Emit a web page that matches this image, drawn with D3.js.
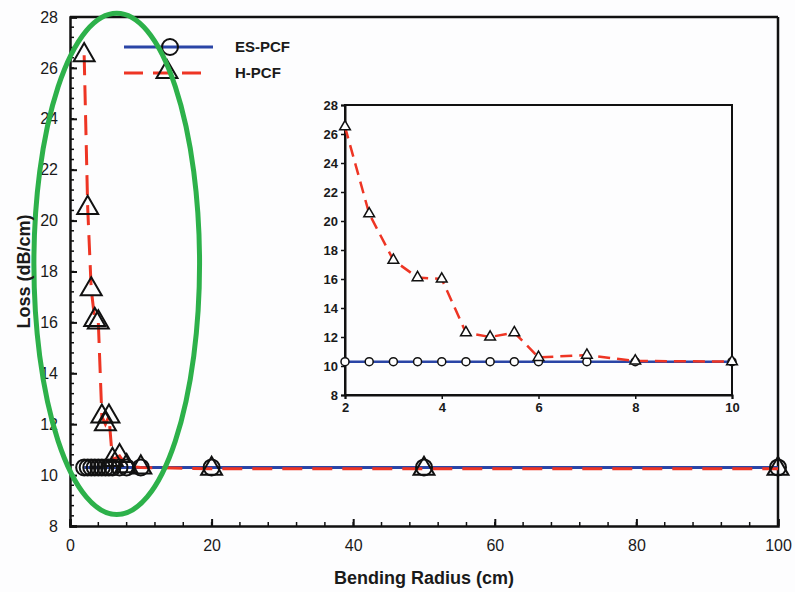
<!DOCTYPE html>
<html>
<head>
<meta charset="utf-8">
<script src="https://cdn.jsdelivr.net/npm/d3@7"></script>
<style>
  body { margin: 0; background: #fdfdfe; }
  svg text { font-family: "Liberation Sans", Arial, sans-serif; fill: #1a1a1a; }
</style>
</head>
<body>
<div id="chart"></div>
<script>
'use strict';
// bending radius (cm)
var radius = [2, 2.5, 3, 3.5, 4, 4.5, 5, 5.5, 6, 7, 8, 10, 20, 50, 100];
// loss values (dB/cm)
var esLoss = [10.3, 10.3, 10.3, 10.3, 10.3, 10.3, 10.3, 10.3, 10.3, 10.3, 10.3, 10.3, 10.3, 10.3, 10.3];
var hLoss = [26.5, 20.5, 17.3, 16.1, 16.0, 12.3, 12.0, 12.3, 10.6, 10.75, 10.35, 10.3, 10.25, 10.25, 10.25];
var seriesNames = ["ES-PCF", "H-PCF"];
var mainXTicks = [0, 20, 40, 60, 80, 100];
var mainYTicks = [8, 10, 12, 14, 16, 18, 20, 22, 24, 26, 28];
var insetXTicks = [2, 4, 6, 8, 10];
var insetYTicks = [8, 10, 12, 14, 16, 18, 20, 22, 24, 26, 28];
// highlighted region (data units: centre x, centre y, half-width, half-height)
var highlight = { cx: 6.6, cy: 18.3, rx: 11.7, ry: 9.85 };

var blue = "#2a45a6", red = "#ee3524", green = "#2db14a";

var W = 795, H = 592;
var svg = d3.select("#chart").append("svg")
    .attr("width", W).attr("height", H);

var margin = { top: 17, right: 17, bottom: 66, left: 70 },
    width = W - margin.left - margin.right,
    height = H - margin.top - margin.bottom;

var x = d3.scaleLinear().domain([0, 100]).range([0, width]);
var y = d3.scaleLinear().domain([8, 28]).range([height, 0]);

var g = svg.append("g")
    .attr("transform", "translate(" + margin.left + "," + margin.top + ")");

var pts = function (vals) {
    return radius.map(function (r, i) { return { x: r, y: vals[i] }; });
};
var esData = pts(esLoss), hData = pts(hLoss);

// minor ticks (inward)
g.selectAll(".xminor").data(d3.range(0, 101, 4)).enter().append("line")
    .attr("x1", function (d) { return x(d); }).attr("x2", function (d) { return x(d); })
    .attr("y1", height).attr("y2", height - 4)
    .attr("stroke", "#111").attr("stroke-width", 1.5);
g.selectAll(".yminor").data(d3.range(8, 28.01, 0.4)).enter().append("line")
    .attr("y1", function (d) { return y(d); }).attr("y2", function (d) { return y(d); })
    .attr("x1", 0).attr("x2", 4)
    .attr("stroke", "#111").attr("stroke-width", 1.5);

// axes
var xAxis = g.append("g").attr("transform", "translate(0," + height + ")")
    .call(d3.axisBottom(x).tickValues(mainXTicks).tickSize(-7).tickPadding(14));
var yAxis = g.append("g")
    .call(d3.axisLeft(y).tickValues(mainYTicks).tickSize(-7).tickPadding(12));
[xAxis, yAxis].forEach(function (a) {
    a.select(".domain").attr("stroke", "#111").attr("stroke-width", 2.5);
    a.selectAll(".tick line").attr("stroke", "#111").attr("stroke-width", 2);
    a.selectAll(".tick text").attr("font-size", 16).attr("fill", "#1a1a1a");
});
// top and right frame
g.append("line").attr("x1", 0).attr("x2", width).attr("y1", 0).attr("y2", 0)
    .attr("stroke", "#111").attr("stroke-width", 2.5);
g.append("line").attr("x1", width).attr("x2", width).attr("y1", 0).attr("y2", height)
    .attr("stroke", "#111").attr("stroke-width", 2.5);

// lines
var line = function (sx, sy) {
    return d3.line().x(function (d) { return sx(d.x); }).y(function (d) { return sy(d.y); });
};
g.append("path").datum(esData).attr("d", line(x, y))
    .attr("fill", "none").attr("stroke", blue).attr("stroke-width", 3);
g.append("path").datum(hData).attr("d", line(x, y))
    .attr("fill", "none").attr("stroke", red).attr("stroke-width", 3)
    .attr("stroke-dasharray", "20,10");

var tri = d3.symbol().type(d3.symbolTriangle);
g.selectAll(".cmain").data(esData).enter().append("circle")
    .attr("cx", function (d) { return x(d.x); }).attr("cy", function (d) { return y(d.y); })
    .attr("r", 8).attr("fill", "none").attr("stroke", "#111").attr("stroke-width", 2);
g.selectAll(".tmain").data(hData).enter().append("path")
    .attr("d", tri.size(190))
    .attr("transform", function (d) { return "translate(" + x(d.x) + "," + y(d.y) + ")"; })
    .attr("fill", "none").attr("stroke", "#111").attr("stroke-width", 2);

// legend
var leg = g.append("g").attr("transform", "translate(54,30)");
leg.append("line").attr("x1", 0).attr("x2", 89).attr("y1", 0).attr("y2", 0)
    .attr("stroke", blue).attr("stroke-width", 3);
leg.append("circle").attr("cx", 46).attr("cy", 0).attr("r", 8)
    .attr("fill", "none").attr("stroke", "#111").attr("stroke-width", 2);
leg.append("line").attr("x1", 0).attr("x2", 80).attr("y1", 26).attr("y2", 26)
    .attr("stroke", red).attr("stroke-width", 3).attr("stroke-dasharray", "19,10");
leg.append("path").attr("d", tri.size(190)).attr("transform", "translate(43,25)")
    .attr("fill", "none").attr("stroke", "#111").attr("stroke-width", 2);
leg.selectAll("text").data(seriesNames).enter().append("text")
    .attr("x", 111).attr("y", function (d, i) { return i * 26 + 5; })
    .attr("font-size", 15).attr("font-weight", "bold").text(function (d) { return d; });

// axis titles
svg.append("text").attr("x", margin.left + width / 2).attr("y", 584)
    .attr("text-anchor", "middle").attr("font-size", 18).attr("font-weight", "bold")
    .text("Bending Radius (cm)");
svg.append("text").attr("transform", "translate(30," + (margin.top + height / 2) + ") rotate(-90)")
    .attr("text-anchor", "middle").attr("font-size", 18).attr("font-weight", "bold")
    .text("Loss (dB/cm)");

// inset
var inset = { left: 345, top: 105, width: 387, height: 290 };
var xi = d3.scaleLinear().domain([2, 10]).range([0, inset.width]);
var yi = d3.scaleLinear().domain([8, 28]).range([inset.height, 0]);
var gi = svg.append("g").attr("transform", "translate(" + inset.left + "," + inset.top + ")");
gi.append("rect").attr("width", inset.width).attr("height", inset.height)
    .attr("fill", "#fdfdfe").attr("stroke", "#111").attr("stroke-width", 2);
var xia = gi.append("g").attr("transform", "translate(0," + inset.height + ")")
    .call(d3.axisBottom(xi).tickValues(insetXTicks).tickSize(4).tickPadding(4));
var yia = gi.append("g")
    .call(d3.axisLeft(yi).tickValues(insetYTicks).tickSize(4).tickPadding(3));
[xia, yia].forEach(function (a) {
    a.select(".domain").attr("stroke", "#111").attr("stroke-width", 2);
    a.selectAll(".tick line").attr("stroke", "#111").attr("stroke-width", 1.5);
    a.selectAll(".tick text").attr("font-size", 13).attr("font-weight", "bold").attr("fill", "#1a1a1a");
});
var esIn = esData.filter(function (d) { return d.x <= 10; });
var hIn = hData.filter(function (d) { return d.x <= 10; });
gi.append("path").datum(esIn).attr("d", line(xi, yi))
    .attr("fill", "none").attr("stroke", blue).attr("stroke-width", 2.5);
gi.append("path").datum(hIn).attr("d", line(xi, yi))
    .attr("fill", "none").attr("stroke", red).attr("stroke-width", 2.5)
    .attr("stroke-dasharray", "12,7");
gi.selectAll(".ci").data(esIn).enter().append("circle")
    .attr("cx", function (d) { return xi(d.x); }).attr("cy", function (d) { return yi(d.y); })
    .attr("r", 4).attr("fill", "#fff").attr("stroke", "#111").attr("stroke-width", 1.5);
gi.selectAll(".ti").data(hIn).enter().append("path")
    .attr("d", d3.symbol().type(d3.symbolTriangle).size(50))
    .attr("transform", function (d) { return "translate(" + xi(d.x) + "," + yi(d.y) + ")"; })
    .attr("fill", "#fff").attr("stroke", "#111").attr("stroke-width", 1.5);

// highlight ellipse
g.append("ellipse")
    .attr("cx", x(highlight.cx)).attr("cy", y(highlight.cy))
    .attr("rx", x(highlight.rx) - x(0)).attr("ry", y(0) - y(highlight.ry))
    .attr("fill", "none").attr("stroke", green).attr("stroke-width", 5);
</script>
</body>
</html>
